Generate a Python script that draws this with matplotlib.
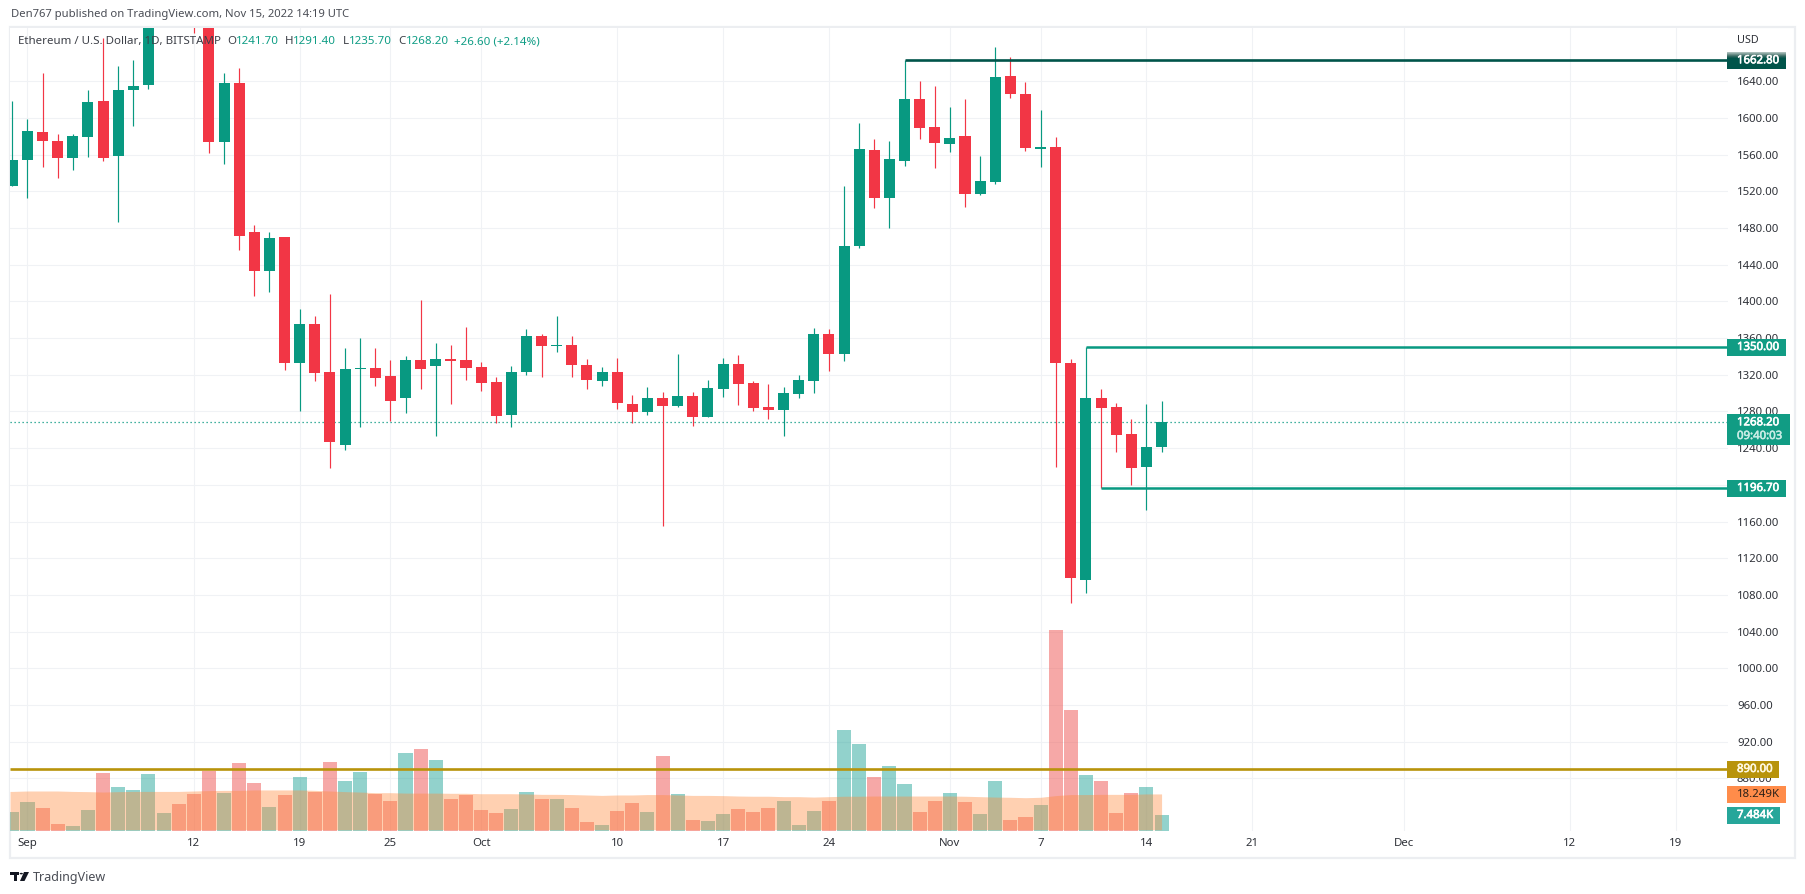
import matplotlib
matplotlib.use("Agg")
import matplotlib.pyplot as plt
import matplotlib.patheffects as pe
from matplotlib.patches import Rectangle, Polygon, Circle

W, H = 1805, 894
FONT = "Noto Sans"
plt.rcParams["font.family"] = [FONT, "DejaVu Sans"]

# ---- data (day offset from Sep 1, 2022) ----
days = list(range(-1, 76))
opens = [1525.5, 1554.6, 1585.1, 1575.3, 1556.7, 1579.6, 1618.9, 1558.9, 1630.9, 1636.4, 1715.0,
         1780.0, 1760.0, 1715.0, 1574.2, 1638.6, 1476.0, 1433.5, 1470.6, 1333.1, 1375.7, 1323.3,
         1243.7, 1326.6, 1327.7, 1319.0, 1295.0, 1336.4, 1329.9, 1337.5, 1336.4, 1328.8, 1312.4,
         1276.4, 1323.3, 1362.6, 1351.7, 1352.8, 1331.0, 1313.5, 1323.3, 1288.4, 1279.7, 1295.0,
         1286.2, 1297.1, 1274.2, 1304.8, 1332.0, 1311.3, 1285.1, 1281.8, 1299.3, 1313.5, 1364.8,
         1343.0, 1460.8, 1565.5, 1513.1, 1553.5, 1621.1, 1590.6, 1572.0, 1580.8, 1517.5, 1530.6,
         1646.2, 1626.6, 1566.6, 1568.8, 1333.1, 1096.4, 1294.9, 1285.1, 1255.6, 1219.6, 1241.7]
closes = [1554.6, 1586.2, 1575.3, 1556.7, 1580.7, 1617.8, 1556.7, 1630.9, 1635.3, 1715.0, 1780.0,
          1760.0, 1715.0, 1574.2, 1638.6, 1471.6, 1433.5, 1469.5, 1333.1, 1375.6, 1322.2, 1246.9,
          1326.6, 1327.7, 1316.8, 1291.7, 1336.4, 1326.6, 1337.5, 1335.3, 1327.7, 1311.3, 1275.3,
          1323.3, 1362.6, 1351.7, 1352.8, 1331.0, 1314.6, 1323.3, 1289.5, 1279.7, 1295.0, 1286.2,
          1297.1, 1274.2, 1305.9, 1332.0, 1310.2, 1284.0, 1281.8, 1300.4, 1314.6, 1364.8, 1343.0,
          1460.8, 1566.6, 1513.1, 1555.7, 1621.1, 1589.5, 1573.1, 1578.6, 1517.5, 1531.7, 1645.1,
          1626.6, 1567.7, 1568.8, 1333.1, 1098.5, 1294.9, 1284.0, 1254.6, 1218.6, 1241.5, 1268.2]
highs = [1618.9, 1599.3, 1649.5, 1582.9, 1582.9, 1630.9, 1687.3, 1657.1, 1663.6, 1720.0, 1790.0,
         1790.0, 1770.0, 1725.0, 1649.5, 1654.9, 1483.6, 1476.0, 1470.6, 1392.0, 1384.4, 1408.4,
         1349.5, 1360.4, 1349.5, 1336.4, 1340.8, 1401.9, 1354.9, 1352.8, 1372.4, 1334.2, 1317.9,
         1329.9, 1370.2, 1364.8, 1384.4, 1362.6, 1337.5, 1328.8, 1338.6, 1298.2, 1307.0, 1301.5,
         1343.0, 1301.5, 1314.6, 1338.6, 1341.9, 1313.5, 1310.2, 1307.0, 1320.0, 1371.3, 1370.2,
         1526.2, 1594.9, 1577.5, 1575.3, 1662.8, 1640.8, 1635.3, 1612.4, 1621.1, 1559.0, 1676.8,
         1665.9, 1639.7, 1609.1, 1579.7, 1337.5, 1350.0, 1304.7, 1289.5, 1272.0, 1288.4, 1291.4]
lows = [1525.5, 1513.1, 1546.9, 1534.9, 1543.6, 1557.8, 1553.5, 1486.9, 1591.6, 1632.0, 1705.0,
        1740.0, 1692.7, 1562.2, 1550.2, 1456.4, 1406.2, 1410.6, 1325.5, 1280.7, 1313.5, 1218.6,
        1238.2, 1263.3, 1308.0, 1269.9, 1278.6, 1304.8, 1253.5, 1288.4, 1314.6, 1302.6, 1267.7,
        1263.3, 1320.0, 1317.9, 1345.1, 1317.9, 1304.8, 1308.0, 1282.9, 1267.7, 1276.4, 1155.3,
        1285.1, 1264.4, 1274.2, 1296.0, 1287.3, 1280.8, 1272.0, 1253.5, 1295.0, 1300.4, 1324.4,
        1335.3, 1458.6, 1502.2, 1480.4, 1548.0, 1577.5, 1545.8, 1563.3, 1503.3, 1516.4, 1528.4,
        1622.2, 1564.4, 1546.9, 1219.6, 1071.3, 1082.2, 1196.7, 1236.0, 1200.0, 1172.7, 1235.7]
volumes = [8.9, 13.7, 10.8, 3.2, 2.2, 9.9, 27.5, 20.9, 19.4, 27.1, 8.4,
           12.7, 17.5, 28.5, 18.0, 32.3, 22.8, 11.3, 17.0, 25.6, 18.5, 32.8,
           23.7, 28.0, 17.5, 14.2, 37.1, 39.0, 33.8, 15.1, 17.0, 9.9, 8.4,
           10.3, 18.5, 15.1, 15.1, 10.8, 4.1, 2.7, 9.4, 13.2, 8.9, 35.7,
           17.5, 5.1, 4.6, 8.0, 10.3, 8.9, 10.8, 14.2, 2.7, 9.4, 14.2,
           48.1, 41.4, 25.6, 30.9, 22.3, 8.9, 14.2, 18.0, 13.7, 8.0, 23.7,
           5.1, 6.5, 12.3, 95.8, 57.6, 26.6, 23.7, 8.4, 18.0, 20.9, 7.484]
volume_ma = [18.9, 19.1, 19.1, 19.1, 18.9, 18.8, 18.6, 18.8, 18.9, 18.9, 18.9,
             18.9, 19.1, 19.3, 19.4, 19.4, 19.6, 19.6, 19.6, 19.6, 19.4, 19.1,
             18.8, 18.6, 18.3, 18.3, 18.1, 18.1, 18.1, 18.0, 18.0, 17.8, 17.8,
             17.8, 17.7, 17.5, 17.5, 17.4, 17.2, 17.0, 17.2, 17.2, 17.4, 17.4,
             17.2, 17.0, 17.0, 16.9, 16.7, 16.6, 16.6, 16.4, 16.4, 16.2, 16.4,
             16.6, 16.6, 16.7, 16.7, 16.7, 16.7, 16.7, 16.7, 16.6, 16.4, 16.2,
             16.1, 15.9, 16.1, 16.9, 17.4, 17.4, 17.5, 17.5, 17.5, 17.7, 17.7]

price_ticks = list(range(880, 1641, 40))
time_ticks = [0, 11, 18, 24, 30, 39, 46, 53, 61, 67, 74, 81, 91, 102, 109]
time_labels = ["Sep", "12", "19", "25", "Oct", "10", "17", "24", "Nov", "7", "14", "21", "Dec", "12", "19"]

level_high, level_high_from = 1662.8, 58
level_mid, level_mid_from = 1350.0, 70
level_low, level_low_from = 1196.7, 71
level_vol = 890.0
last_price = 1268.2
last_volume_text, ma_text = "7.484K", "18.249K"

# ---- styles ----
UP, DOWN = "#089981", "#f23645"
DARK = "#00544a"
GOLD = "#b8930b"
GRID = "#f0f2f5"
TXT = "#2e3138"


def fx(x):
    return x / W


def fy(y):
    return 1 - y / H


# pane occupies pixels (10..1728, 27.5..831)
L, R, T, B = 10, 1728, 27.5, 831
rect = [fx(L), fy(B), (R - L) / W, (B - T) / H]
fig = plt.figure(figsize=(W / 100, H / 100), dpi=100, facecolor="white")

ax = fig.add_axes(rect, zorder=1)
ax_v = fig.add_axes(rect, zorder=2)
ax_c = fig.add_axes(rect, zorder=3)

xlim = (-1.157, 112.46)
ylim = (822.6, 1698.6)
for a in (ax, ax_c, ax_v):
    a.set_xlim(*xlim)
    for s in a.spines.values():
        s.set_visible(False)
ax.set_ylim(*ylim)
ax_c.set_ylim(*ylim)
ax_v.set_ylim(0, 383.7)
ax_v.patch.set_visible(False)
ax_c.patch.set_visible(False)
ax_v.set_xticks([]); ax_v.set_yticks([])
ax_c.set_xticks([]); ax_c.set_yticks([])

# grid + axis labels
ax.set_xticks(time_ticks)
ax.set_xticklabels(time_labels)
ax.set_yticks(price_ticks)
ax.set_yticklabels([f"{p:.2f}" for p in price_ticks])
ax.yaxis.tick_right()
ax.tick_params(axis="y", length=0, pad=6.4, labelsize=8.2, labelcolor=TXT)
ax.tick_params(axis="x", length=0, pad=4.8, labelsize=8.2, labelcolor=TXT)
ax.grid(True, color=GRID, lw=0.8)
ax.set_axisbelow(True)

# volume
vol_colors = ["#26a69a" if c >= o else "#ef5350" for o, c in zip(opens, closes)]
ax_v.bar(days, volumes, width=0.93, color=vol_colors, alpha=0.5, linewidth=0)
ax_v.fill_between([xlim[0]] + days, 0.6, [volume_ma[0]] + volume_ma, color="#ff8a3d", alpha=0.4, linewidth=0)

# last price dotted
ax_c.axhline(last_price, color=UP, lw=0.9, ls=(0, (1, 2.2)), zorder=1)

# candles
for d, o, h, l, c in zip(days, opens, highs, lows, closes):
    col = UP if c >= o else DOWN
    ax_c.vlines(d, l, h, color=col, lw=0.85, zorder=3)
    ax_c.bar(d, abs(c - o), bottom=min(o, c), width=0.73, color=col, linewidth=0, zorder=4)

# levels
ax_c.hlines(level_high, level_high_from, xlim[1], color=DARK, lw=1.9, zorder=5)
ax_c.hlines(level_mid, level_mid_from, xlim[1], color=UP, lw=1.8, zorder=5)
ax_c.hlines(level_low, level_low_from, xlim[1], color=UP, lw=1.8, zorder=5)
ax_c.hlines(level_vol, xlim[0], xlim[1], color=GOLD, lw=1.9, zorder=5)

# tags on the price scale (pixel placement)
trans = fig.transFigure


def tag(x0, x1, y0, y1, color, alpha=1.0):
    fig.add_artist(Rectangle((fx(x0), fy(y1)), (x1 - x0) / W, (y1 - y0) / H, transform=trans,
                             facecolor=color, edgecolor="none", alpha=alpha, zorder=10))


def label(x, y, s, color, size=8.2, heavy=False, ha="left", z=11):
    t = fig.text(fx(x), fy(y), s, color=color, fontsize=size, ha=ha, va="center", zorder=z)
    if heavy:
        t.set_path_effects([pe.withStroke(linewidth=0.45, foreground=color)])


tag(1727, 1786, 52, 69, DARK)
for k, c in enumerate(["#a9bdb9", "#8aa6a1", "#6b8e88", "#4b7770", "#2c655d", "#155a50"]):
    tag(1727, 1786, 52 + k, 53 + k, c)
label(1737, 60.8, f"{level_high:.2f}", "white", heavy=True)

tag(1727, 1786, 339, 356, "#119c84")
label(1737, 347.5, f"{level_mid:.2f}", "white", heavy=True)

tag(1727, 1790, 414.3, 445, "#119c84")
label(1737, 422.8, f"{last_price:.2f}", "white", heavy=True)
label(1737, 436.5, "09:40:03", "#c8ece5", heavy=True)

tag(1727, 1786, 480, 497, "#119c84")
label(1737, 488.5, f"{level_low:.2f}", "white", heavy=True)

tag(1727, 1779, 761, 778, GOLD)
label(1737, 769.5, f"{level_vol:.2f}", "#fff8e0", heavy=True)

tag(1727, 1786, 786, 803, "#ff8c4a")
label(1737, 794.5, ma_text, "#2b2118")

tag(1727, 1780, 807, 824, "#26a69a")
label(1737, 815.5, last_volume_text, "white", heavy=True)

label(1737, 40.5, "USD", TXT, size=7.8)

# frame
fig.add_artist(Rectangle((fx(9.5), fy(858)), (1795 - 9.5) / W, (858 - 26.5) / H, transform=trans,
                         facecolor="none", edgecolor="#eceef1", lw=1.6, zorder=0))

# header
label(11, 15, "Den767 published on TradingView.com, Nov 15, 2022 14:19 UTC", "#4a4d55", size=8.1)
label(18, 41.7, "Ethereum / U.S. Dollar, 1D, BITSTAMP", "#3d4048", size=8.3, z=20)
for x, s in [(227.7, "O"), (285, "H"), (342.5, "L"), (398, "C")]:
    label(x, 41.7, s, "#3d4048", size=8.3, z=20)
for x, s in [(236, "1241.70"), (293, "1291.40"), (349.4, "1235.70"), (406, "1268.20"),
             (454, "+26.60 (+2.14%)")]:
    label(x, 41.7, s, "#0f9d85", size=8.3, z=20)

# footer logo + wordmark
for patch in [
    Polygon([(10, 872), (19, 872), (19, 875), (17, 875), (17, 881), (13.5, 881), (13.5, 875), (10, 875)],
            closed=True, facecolor="#131722", edgecolor="none"),
    Polygon([(24, 872), (29, 872), (24.5, 881), (20, 881)], closed=True, facecolor="#131722", edgecolor="none"),
]:
    xy = patch.get_xy()
    patch.set_xy([(fx(a), fy(b)) for a, b in xy])
    patch.set_transform(trans)
    fig.add_artist(patch)
fig.add_artist(Circle((fx(21.3), fy(873.6)), 1.6 / W, transform=trans, facecolor="#131722", edgecolor="none"))
label(33, 877, "TradingView", "#4a4d55", size=9)

fig.savefig("out.png", dpi=100, facecolor="white")
